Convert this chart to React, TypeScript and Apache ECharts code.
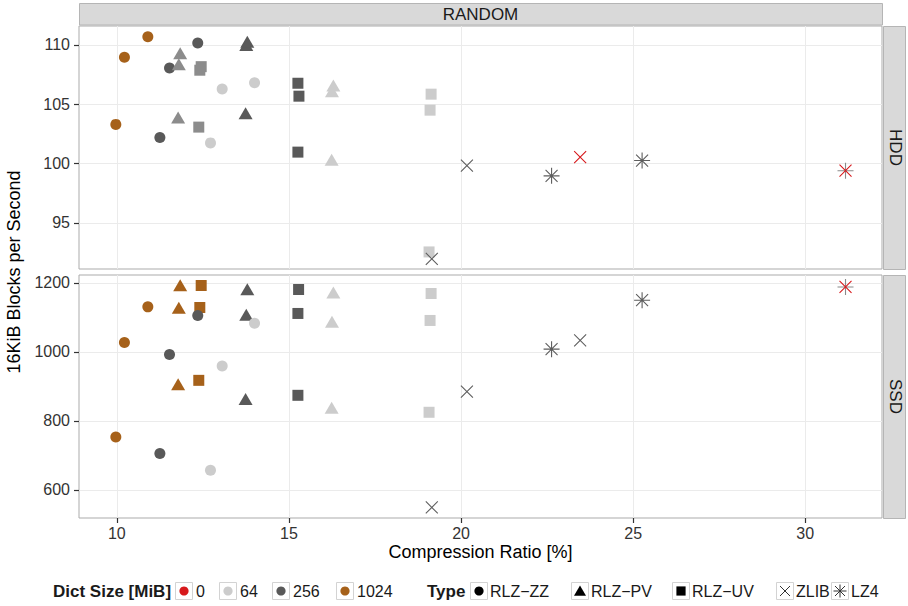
import React, { useEffect, useRef } from "react";
import * as echarts from "echarts";

// ---------- data ----------
const xTicks = [10, 15, 20, 25, 30];
const hddTicks = [95, 100, 105, 110];
const ssdTicks = [600, 800, 1000, 1200];
const panelNames = ["HDD", "SSD"];
const stripTitle = "RANDOM";
const dictSizes = ["0", "64", "256", "1024"];
const typeNames = ["RLZ\u2212ZZ", "RLZ\u2212PV", "RLZ\u2212UV", "ZLIB", "LZ4"];

// HDD panel
const hddZz1024 = [[9.97, 103.3], [10.22, 108.96], [10.9, 110.7]];
const hddZz256 = [[11.25, 102.2], [11.53, 108.06], [12.35, 110.17]];
const hddZz64 = [[12.72, 101.74], [13.06, 106.29], [14.0, 106.82]];
const hddPvMid = [[11.78, 103.88], [11.8, 108.37], [11.84, 109.3]];
const hddPv256 = [[13.74, 104.24], [13.76, 110.0], [13.79, 110.28]];
const hddPv64 = [[16.24, 100.31], [16.25, 106.1], [16.29, 106.57]];
const hddUvMid = [[12.38, 103.07], [12.41, 107.87], [12.45, 108.17]];
const hddUv256 = [[15.26, 100.96], [15.29, 105.68], [15.26, 106.77]];
const hddUv64 = [[19.07, 92.54], [19.1, 104.5], [19.13, 105.85]];
const hddZlib256 = [[19.15, 91.95], [20.17, 99.83]];
const hddZlib0 = [[23.46, 100.54]];
const hddLz4256 = [[22.63, 98.96], [25.26, 100.25]];
const hddLz40 = [[31.17, 99.39]];

// SSD panel
const ssdZz1024 = [[9.97, 753.5], [10.22, 1027.5], [10.9, 1130.6]];
const ssdZz256 = [[11.25, 705.2], [11.53, 992.8], [12.35, 1105.7]];
const ssdZz64 = [[12.72, 657], [13.06, 959], [14.0, 1083.4]];
const ssdPv1024 = [[11.78, 906], [11.8, 1127.7], [11.84, 1193.3]];
const ssdPv256 = [[13.74, 863.5], [13.76, 1107.4], [13.79, 1181.8]];
const ssdPv64 = [[16.24, 838.3], [16.25, 1087.2], [16.29, 1172.2]];
const ssdUv1024 = [[12.38, 917.6], [12.41, 1128.8], [12.45, 1192.5]];
const ssdUv256 = [[15.26, 874.2], [15.26, 1111.5], [15.28, 1180.9]];
const ssdUv64 = [[19.07, 825], [19.1, 1091.2], [19.13, 1169.3]];
const ssdZlib256 = [[19.15, 549], [20.17, 884.6], [23.46, 1033.3]];
const ssdLz4256 = [[22.63, 1008], [25.26, 1150]];
const ssdLz40 = [[31.17, 1188.4]];

// ---------- styling ----------
const FONT = "'Liberation Sans', Arial, Helvetica, sans-serif";
const dictColors: Record<string, string> = {
  "0": "#D7191C",
  "64": "#CCCCCC",
  "256": "#595959",
  "1024": "#A6611A",
  mid: "#8C8C8C",
};
const X_PATH = "path://M0,0L12,12M12,0L0,12";
const PLUS_PATH = "path://M8,0L8,16M0,8L16,8";
const STAR_X_PATH = "path://M2,2L14,14M14,2L2,14";
const STAR_PATH = "path://M2,2L14,14M14,2L2,14M8,0L8,16M0,8L16,8";

// [panel index, type, dict key, data]
const seriesTable: [number, string, string, number[][]][] = [
  [0, "ZZ", "1024", hddZz1024],
  [0, "ZZ", "256", hddZz256],
  [0, "PV", "256", hddPv256],
  [0, "UV", "256", hddUv256],
  [0, "PV", "mid", hddPvMid],
  [0, "UV", "mid", hddUvMid],
  [0, "ZZ", "64", hddZz64],
  [0, "PV", "64", hddPv64],
  [0, "UV", "64", hddUv64],
  [0, "ZLIB", "256", hddZlib256],
  [0, "ZLIB", "0", hddZlib0],
  [0, "LZ4", "256", hddLz4256],
  [0, "LZ4", "0", hddLz40],
  [1, "ZZ", "1024", ssdZz1024],
  [1, "PV", "1024", ssdPv1024],
  [1, "UV", "1024", ssdUv1024],
  [1, "ZZ", "256", ssdZz256],
  [1, "PV", "256", ssdPv256],
  [1, "UV", "256", ssdUv256],
  [1, "ZZ", "64", ssdZz64],
  [1, "PV", "64", ssdPv64],
  [1, "UV", "64", ssdUv64],
  [1, "ZLIB", "256", ssdZlib256],
  [1, "LZ4", "256", ssdLz4256],
  [1, "LZ4", "0", ssdLz40],
];

function buildSeries() {
  const out: any[] = [];
  const base = (p: number, name: string, data: number[][]) => ({
    type: "scatter",
    name,
    xAxisIndex: p,
    yAxisIndex: p,
    data,
    silent: true,
    emphasis: { disabled: true },
  });
  const stroke = (c: string) => ({ color: "rgba(0,0,0,0)", borderColor: c, borderWidth: 1.1, opacity: 1 });
  seriesTable.forEach(([p, t, d, data]) => {
    const c = dictColors[d];
    const name = `${panelNames[p]} ${t} ${d}`;
    if (t === "ZZ") {
      out.push({ ...base(p, name, data), symbol: "circle", symbolSize: 11, itemStyle: { color: c, opacity: 1 } });
    } else if (t === "PV") {
      out.push({ ...base(p, name, data), symbol: "triangle", symbolSize: [14, 12], itemStyle: { color: c, opacity: 1 } });
    } else if (t === "UV") {
      out.push({ ...base(p, name, data), symbol: "rect", symbolSize: 11, itemStyle: { color: c, opacity: 1 } });
    } else if (t === "ZLIB") {
      out.push({ ...base(p, name, data), symbol: X_PATH, symbolSize: 12, itemStyle: stroke(d === "0" ? c : "#5E5E5E") });
    } else if (t === "LZ4") {
      if (d === "0") {
        out.push({ ...base(p, name + " plus", data), symbol: PLUS_PATH, symbolSize: 16, itemStyle: stroke("#8A8A8A") });
        out.push({ ...base(p, name, data), symbol: STAR_X_PATH, symbolSize: 12, itemStyle: stroke(c) });
      } else {
        out.push({ ...base(p, name, data), symbol: STAR_PATH, symbolSize: 16, itemStyle: stroke("#5E5E5E") });
      }
    }
  });
  return out;
}

// ---------- layout ----------
const GL = 79;
const GR = 882;
const G1T = 26;
const G1B = 269;
const G2T = 275;
const G2B = 518;
const GW = GR - GL;

function textStyle(text: string, size: number, align: string, bold = false, fill = "#1A1A1A") {
  return {
    text,
    font: `${bold ? "bold " : ""}${size}px ${FONT}`,
    fill,
    textAlign: align,
    textVerticalAlign: "middle",
    align,
    verticalAlign: "middle",
  };
}

function buildLegend() {
  const els: any[] = [];
  const cy = 591;
  const keyTop = 582;
  const txt = (x: number, s: string, bold = false) => ({
    type: "text",
    x,
    y: cy,
    style: textStyle(s, bold ? 17 : 16, "left", bold),
  });
  const keyBox = (x: number) => ({
    type: "rect",
    shape: { x: x + 0.5, y: keyTop + 0.5, width: 17, height: 17 },
    style: { fill: "#FFFFFF", stroke: "#D3D3D3", lineWidth: 1 },
  });
  els.push(txt(53, "Dict Size [MiB]", true));
  const dictKeyX = [175, 219, 272, 336];
  dictSizes.forEach((d, i) => {
    const x = dictKeyX[i];
    els.push(keyBox(x));
    els.push({ type: "circle", shape: { cx: x + 9, cy: keyTop + 9, r: 4.6 }, style: { fill: dictColors[d] } });
    els.push(txt(x + 21, d));
  });
  els.push(txt(427, "Type", true));
  const typeKeyX = [470, 571, 672, 776, 831];
  typeNames.forEach((t, i) => {
    const x = typeKeyX[i];
    const cx = x + 9;
    const kc = keyTop + 9;
    els.push(keyBox(x));
    const black = "#000000";
    const ln = (x1: number, y1: number, x2: number, y2: number) => ({
      type: "line",
      shape: { x1, y1, x2, y2 },
      style: { stroke: "#333333", lineWidth: 1 },
    });
    if (i === 0) {
      els.push({ type: "circle", shape: { cx, cy: kc, r: 4.6 }, style: { fill: black } });
    } else if (i === 1) {
      els.push({
        type: "polygon",
        shape: { points: [[cx, kc - 5.5], [cx + 6, kc + 4.8], [cx - 6, kc + 4.8]] },
        style: { fill: black },
      });
    } else if (i === 2) {
      els.push({ type: "rect", shape: { x: cx - 4.6, y: kc - 4.6, width: 9.2, height: 9.2 }, style: { fill: black } });
    } else if (i === 3) {
      const r = 5;
      els.push(ln(cx - r, kc - r, cx + r, kc + r));
      els.push(ln(cx + r, kc - r, cx - r, kc + r));
    } else {
      const r = 5;
      const R = 6.5;
      els.push(ln(cx - r, kc - r, cx + r, kc + r));
      els.push(ln(cx + r, kc - r, cx - r, kc + r));
      els.push(ln(cx, kc - R, cx, kc + R));
      els.push(ln(cx - R, kc, cx + R, kc));
    }
    els.push(txt(x + 20, t));
  });
  return els;
}

function buildStrips() {
  const els: any[] = [];
  const stripFill = "#D9D9D9";
  const stripStroke = "#B5B5B5";
  els.push({
    type: "rect",
    shape: { x: GL + 0.5, y: 3.5, width: GW, height: 21.5 },
    style: { fill: stripFill, stroke: stripStroke, lineWidth: 1 },
  });
  els.push({ type: "text", x: (GL + GR) / 2, y: 14.5, style: textStyle(stripTitle, 17, "center") });
  const rows = [
    [G1T, G1B],
    [G2T, G2B],
  ];
  rows.forEach(([t, b], i) => {
    els.push({
      type: "rect",
      shape: { x: GR + 1.5, y: t + 0.5, width: 22, height: b - t },
      style: { fill: stripFill, stroke: stripStroke, lineWidth: 1 },
    });
    els.push({
      type: "text",
      x: GR + 13,
      y: (t + b) / 2,
      rotation: -Math.PI / 2,
      style: textStyle(panelNames[i], 17, "center"),
    });
  });
  // axis titles
  els.push({
    type: "text",
    x: (GL + GR) / 2,
    y: 552,
    style: textStyle("Compression Ratio [%]", 18, "center", false, "#000000"),
  });
  els.push({
    type: "text",
    x: 14,
    y: (G1T + G2B) / 2,
    rotation: Math.PI / 2,
    style: textStyle("16KiB Blocks per Second", 18, "center", false, "#000000"),
  });
  return els;
}

const plainNum = (v: number) => String(v);

function xAxisFor(grid: number, showLabels: boolean) {
  return {
    type: "value",
    gridIndex: grid,
    min: 8.9,
    max: 32.23,
    axisLine: { show: false },
    axisTick: {
      show: showLabels,
      customValues: xTicks,
      length: 5,
      lineStyle: { color: "#333333", width: 1.2 },
    },
    axisLabel: {
      show: showLabels,
      customValues: xTicks,
      formatter: plainNum,
      fontSize: 16,
      fontFamily: FONT,
      color: "#333333",
      margin: 7,
    },
    splitLine: { show: true, lineStyle: { color: "#EBEBEB", width: 1 } },
  };
}

function yAxisFor(grid: number, min: number, max: number, ticks: number[]) {
  return {
    type: "value",
    gridIndex: grid,
    min,
    max,
    axisLine: { show: false },
    axisTick: {
      show: true,
      customValues: ticks,
      length: 5,
      lineStyle: { color: "#333333", width: 1.2 },
    },
    axisLabel: {
      show: true,
      customValues: ticks,
      formatter: plainNum,
      fontSize: 16,
      fontFamily: FONT,
      color: "#333333",
      margin: 9,
    },
    splitLine: { show: true, lineStyle: { color: "#EBEBEB", width: 1 } },
  };
}

export default function App() {
  const ref = useRef<HTMLDivElement>(null);
  useEffect(() => {
    if (!ref.current) return;
    const chart = echarts.init(ref.current, null, { renderer: "svg" });
    chart.setOption({
      animation: false,
      backgroundColor: "#FFFFFF",
      textStyle: { fontFamily: FONT },
      grid: [
        { left: GL, top: G1T, width: GW, height: G1B - G1T, show: true, borderColor: "#ABABAB", borderWidth: 1, backgroundColor: "#FFFFFF", containLabel: false, outerBoundsMode: "none" },
        { left: GL, top: G2T, width: GW, height: G2B - G2T, show: true, borderColor: "#ABABAB", borderWidth: 1, backgroundColor: "#FFFFFF", containLabel: false, outerBoundsMode: "none" },
      ],
      xAxis: [xAxisFor(0, false), xAxisFor(1, true)],
      yAxis: [yAxisFor(0, 91.1, 111.6, hddTicks), yAxisFor(1, 518.5, 1223, ssdTicks)],
      series: buildSeries(),
      graphic: { elements: [...buildStrips(), ...buildLegend()] },
    });
    return () => chart.dispose();
  }, []);
  return (
    <div
      ref={ref}
      style={{ position: "absolute", left: 0, top: 0, width: 908, height: 606 }}
    />
  );
}
